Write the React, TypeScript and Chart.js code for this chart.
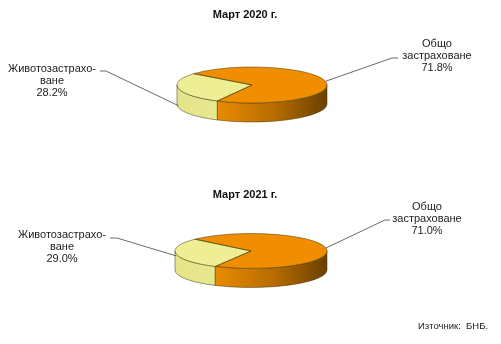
import React, { useEffect, useRef } from 'react';
import { Chart, registerables } from 'chart.js';

Chart.register(...registerables);

// ---- data ----
const categories = ['Животозастраховане', 'Общо застраховане'];
const labelLines = [['Животозастрахо-', 'ване'], ['Общо', 'застраховане']];
const titles = ['Март 2020 г.', 'Март 2021 г.'];
const values2020 = [28.2, 71.8];
const values2021 = [29.0, 71.0];
const sourceText = 'Източник:  БНБ.';

// ---- styles ----
const topColors = ['#EEEE94', '#F08E00'];
const FONT = '"Liberation Sans", Arial, sans-serif';

type LabelCfg = { cx: number; cy: number; sx: number; sy: number; kx: number; drop: number };
type PieCfg = {
  title: string;
  titleY: number;
  values: number[];
  rotation: number;
  padding: { left: number; right: number; top: number; bottom: number };
  k: number;
  depth: number;
  labels: LabelCfg[];
};

const pie3dPlugin = {
  id: 'pie3d',
  beforeDatasetsDraw(chart: any, _args: any, opts: any) {
    const ctx = chart.ctx as CanvasRenderingContext2D;
    const arcs = chart.getDatasetMeta(0).data as any[];
    if (!arcs.length) return;
    const { x: cx, y: cy, outerRadius: r } = arcs[0];
    const k = opts.k;
    const d = opts.depth;
    const ry = r * k;
    arcs.forEach((arc: any, i: number) => {
      const s = arc.startAngle;
      const e = arc.endAngle;
      for (let n = -2; n <= 3; n++) {
        const lo = Math.max(s, 2 * Math.PI * n);
        const hi = Math.min(e, 2 * Math.PI * n + Math.PI);
        if (hi <= lo) continue;
        const g = ctx.createLinearGradient(cx - r, 0, cx + r, 0);
        if (i === 1) {
          g.addColorStop(0, '#F6A21E');
          g.addColorStop(0.3, '#E48800');
          g.addColorStop(0.65, '#B86C00');
          g.addColorStop(1, '#6A4000');
        } else {
          g.addColorStop(0, '#E4E48A');
          g.addColorStop(1, '#F2F2A4');
        }
        ctx.save();
        ctx.beginPath();
        ctx.ellipse(cx, cy, r, ry, 0, lo, hi, false);
        ctx.lineTo(cx + r * Math.cos(hi), cy + ry * Math.sin(hi) + d);
        ctx.ellipse(cx, cy + d, r, ry, 0, hi, lo, true);
        ctx.closePath();
        ctx.fillStyle = g;
        ctx.fill();
        ctx.strokeStyle = 'rgba(70,60,10,0.75)';
        ctx.lineWidth = 0.7;
        ctx.stroke();
        ctx.restore();
      }
    });
    ctx.save();
    ctx.translate(cx, cy);
    ctx.scale(1, k);
    ctx.translate(-cx, -cy);
  },
  afterDatasetsDraw(chart: any, _args: any, opts: any) {
    const ctx = chart.ctx as CanvasRenderingContext2D;
    ctx.restore();
    const arcs = chart.getDatasetMeta(0).data as any[];
    if (!arcs.length) return;
    const { x: cx, y: cy, outerRadius: r } = arcs[0];
    const ry = r * opts.k;
    ctx.save();
    ctx.strokeStyle = 'rgba(70,60,10,0.75)';
    ctx.lineWidth = 0.7;
    arcs.forEach((arc: any) => {
      ctx.beginPath();
      ctx.moveTo(cx, cy);
      ctx.ellipse(cx, cy, r, ry, 0, arc.startAngle, arc.endAngle, false);
      ctx.closePath();
      ctx.stroke();
    });
    ctx.restore();
  },
  afterDraw(chart: any, _args: any, opts: any) {
    const ctx = chart.ctx as CanvasRenderingContext2D;
    const arcs = chart.getDatasetMeta(0).data as any[];
    if (!arcs.length) return;
    const { x: cx, y: cy, outerRadius: r } = arcs[0];
    const ry = r * opts.k;
    const values: number[] = chart.data.datasets[0].data;
    ctx.save();
    // title
    ctx.fillStyle = '#111';
    ctx.font = `bold 11px ${FONT}`;
    ctx.textAlign = 'center';
    ctx.textBaseline = 'middle';
    ctx.fillText(opts.title, 245, opts.titleY);
    // labels
    ctx.font = `11px ${FONT}`;
    ctx.fillStyle = '#222';
    (opts.labels as LabelCfg[]).forEach((lb, i) => {
      const lines = [...labelLines[i], values[i].toFixed(1) + '%'];
      lines.forEach((t, j) => ctx.fillText(t, lb.cx, lb.cy + j * 11.8));
      const arc = arcs[i];
      const mid = (arc.startAngle + arc.endAngle) / 2;
      const ex = cx + r * Math.cos(mid);
      const ey = cy + ry * Math.sin(mid) + lb.drop * opts.depth;
      ctx.beginPath();
      ctx.moveTo(lb.sx, lb.sy);
      ctx.lineTo(lb.kx, lb.sy);
      ctx.lineTo(ex, ey);
      ctx.strokeStyle = '#444';
      ctx.lineWidth = 0.8;
      ctx.stroke();
    });
    ctx.restore();
  },
};

const pies: PieCfg[] = [
  {
    title: titles[0],
    titleY: 15,
    values: values2020,
    rotation: 207.5,
    padding: { left: 177, right: 174, top: 10, bottom: 12 },
    k: 0.24,
    depth: 19,
    labels: [
      { cx: 52, cy: 69, sx: 100, sy: 71, kx: 106, drop: 0.9 },
      { cx: 437, cy: 44, sx: 398, sy: 58, kx: 392, drop: 0 },
    ],
  },
  {
    title: titles[1],
    titleY: 23,
    values: values2021,
    rotation: 208,
    padding: { left: 175, right: 174, top: 3, bottom: 17 },
    k: 0.23,
    depth: 19,
    labels: [
      { cx: 62, cy: 63, sx: 110, sy: 66, kx: 117, drop: 0.1 },
      { cx: 427, cy: 35, sx: 390, sy: 48, kx: 385, drop: 0 },
    ],
  },
];

function Pie3D({ cfg }: { cfg: PieCfg }) {
  const ref = useRef<HTMLCanvasElement>(null);
  useEffect(() => {
    if (!ref.current) return;
    const chart = new Chart(ref.current, {
      type: 'pie',
      data: {
        labels: categories,
        datasets: [
          {
            data: cfg.values,
            backgroundColor: topColors,
            borderWidth: 0,
          },
        ],
      },
      options: {
        responsive: false,
        maintainAspectRatio: false,
        animation: false,
        devicePixelRatio: 1,
        events: [],
        rotation: cfg.rotation,
        layout: { padding: cfg.padding },
        plugins: {
          legend: { display: false },
          tooltip: { enabled: false },
          title: { display: false },
          pie3d: { k: cfg.k, depth: cfg.depth, title: cfg.title, titleY: cfg.titleY, labels: cfg.labels },
        } as any,
      },
      plugins: [pie3dPlugin as any],
    });
    return () => chart.destroy();
  }, [cfg]);
  return <canvas ref={ref} width={501} height={172} style={{ display: 'block', width: 501, height: 172 }} />;
}

export default function App() {
  return (
    <div
      style={{
        position: 'absolute',
        left: 0,
        top: 0,
        width: 501,
        height: 344,
        background: '#fff',
        fontFamily: FONT,
      }}
    >
      <Pie3D cfg={pies[0]} />
      <Pie3D cfg={pies[1]} />
      <div
        style={{
          position: 'absolute',
          left: 418,
          top: 320,
          fontSize: 9.5,
          color: '#222',
          whiteSpace: 'pre',
        }}
      >
        {sourceText}
      </div>
    </div>
  );
}
